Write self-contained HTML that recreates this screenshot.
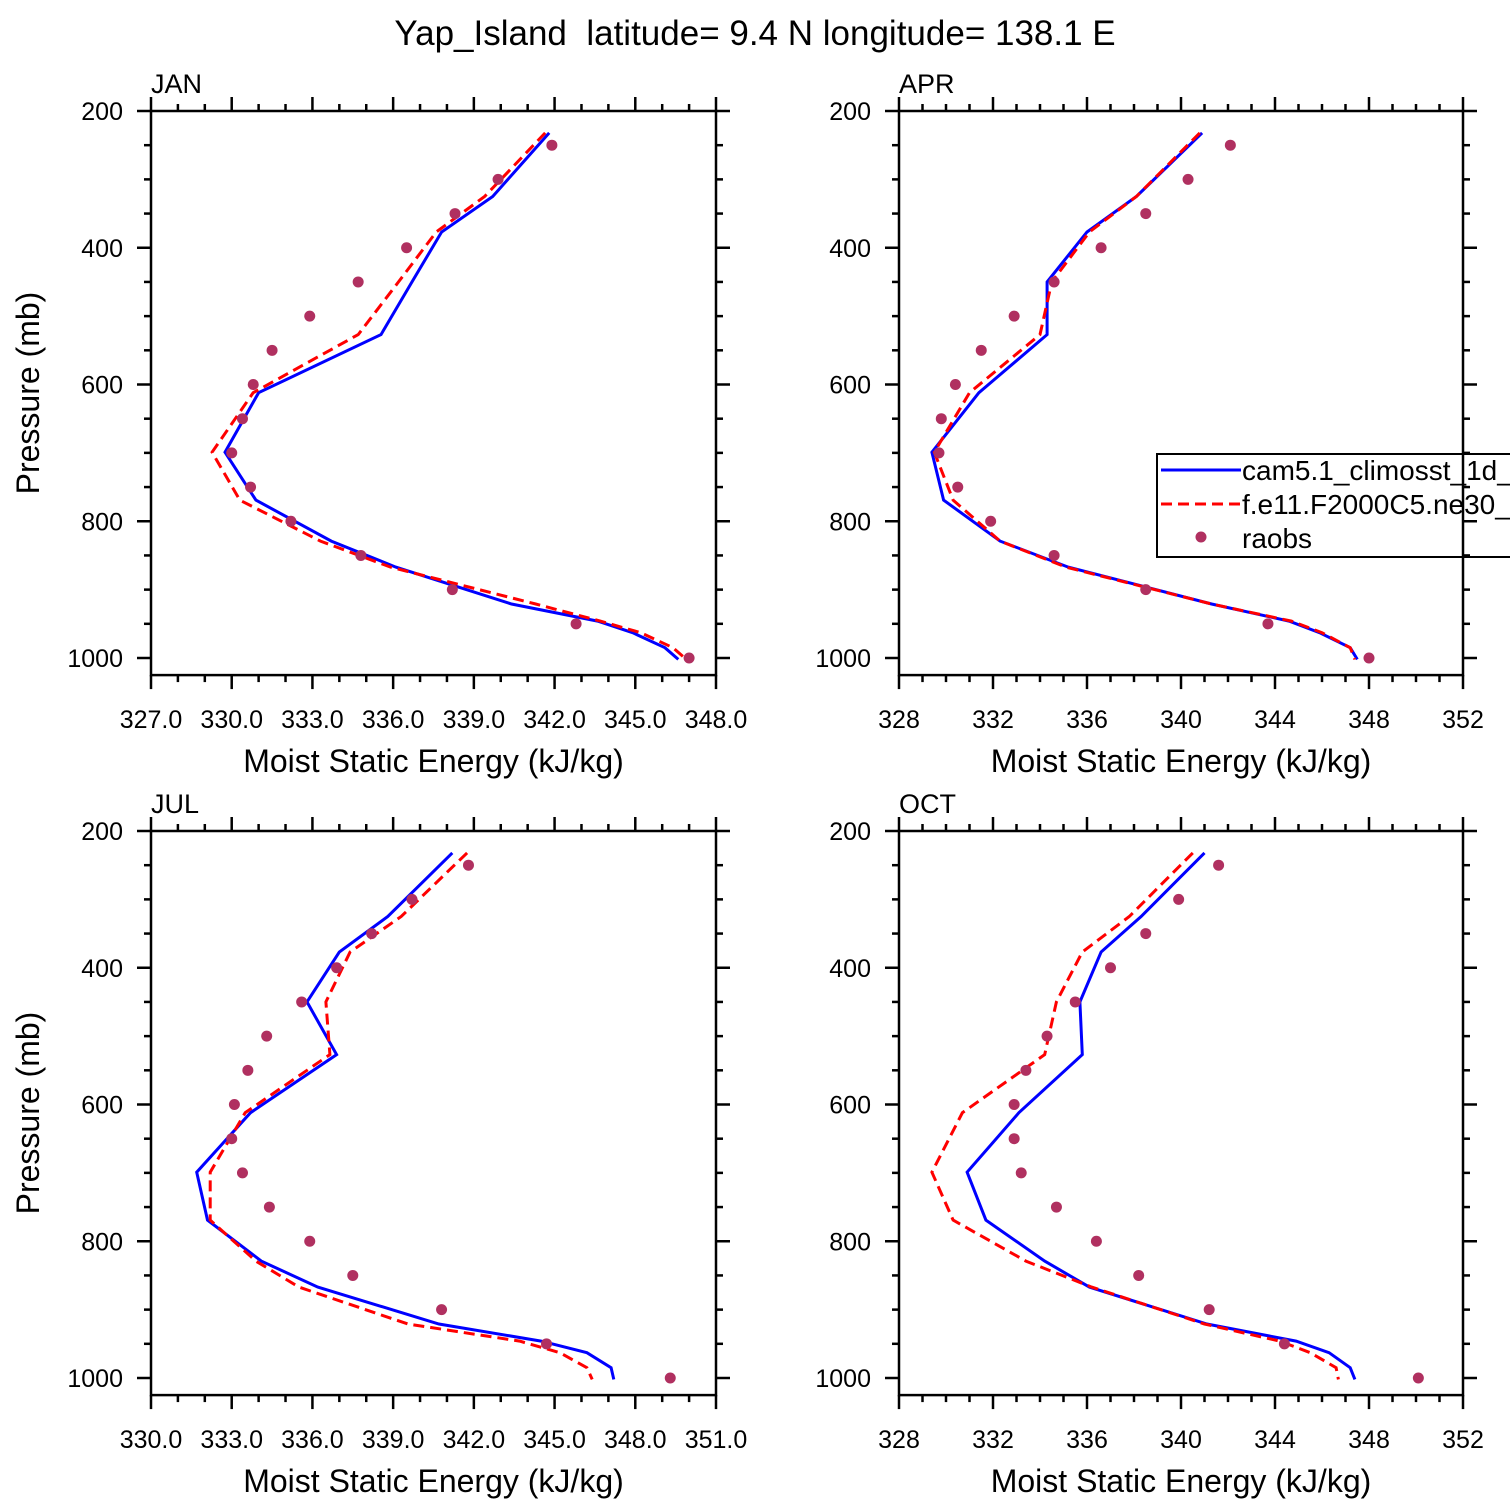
<!DOCTYPE html>
<html><head><meta charset="utf-8"><style>
html,body{margin:0;padding:0;background:#fff;}
svg{display:block;font-family:"Liberation Sans",sans-serif;}
</style></head><body>
<svg id="chart" width="1510" height="1510" viewBox="0 0 1510 1510" xmlns="http://www.w3.org/2000/svg">
<text x="755" y="45" font-size="35" text-anchor="middle" style="white-space:pre">Yap_Island  latitude= 9.4 N longitude= 138.1 E</text>
</svg>
<script>
const levels = [232, 325, 377, 450, 527, 612, 699, 769, 829, 867, 921, 946, 963, 985, 1002];
const obsLevels = [250, 300, 350, 400, 450, 500, 550, 600, 650, 700, 750, 800, 850, 900, 950, 1000];
const janCam = [341.8, 339.7, 337.8, 336.7, 335.55, 331.0, 329.75, 330.9, 333.7, 336.1, 340.4, 343.6, 344.9, 346.1, 346.6];
const janF = [341.65, 339.4, 337.6, 336.2, 334.7, 330.8, 329.27, 330.3, 333.3, 335.9, 341.3, 343.7, 345.2, 346.4, 346.9];
const janObs = [341.9, 339.9, 338.3, 336.5, 334.7, 332.9, 331.5, 330.8, 330.4, 330.0, 330.7, 332.2, 334.8, 338.2, 342.8, 347.0];
const aprCam = [340.9, 338.1, 336.0, 334.3, 334.3, 331.4, 329.4, 329.9, 332.3, 335.2, 341.3, 344.6, 345.9, 347.2, 347.5];
const aprF = [340.8, 338.1, 336.1, 334.5, 334.0, 331.0, 329.5, 330.3, 332.3, 335.1, 341.3, 344.7, 346.0, 347.2, 347.4];
const aprObs = [342.1, 340.3, 338.5, 336.6, 334.6, 332.9, 331.5, 330.4, 329.8, 329.7, 330.5, 331.9, 334.6, 338.5, 343.7, 348.0];
const julCam = [341.2, 338.8, 337.0, 335.8, 336.9, 333.7, 331.7, 332.1, 334.1, 336.2, 340.7, 344.5, 346.2, 347.1, 347.2];
const julF = [341.75, 339.3, 337.4, 336.5, 336.65, 333.5, 332.2, 332.2, 333.9, 335.5, 339.55, 343.7, 345.2, 346.2, 346.4];
const julObs = [341.8, 339.7, 338.2, 336.9, 335.6, 334.3, 333.6, 333.1, 333.0, 333.4, 334.4, 335.9, 337.5, 340.8, 344.7, 349.3];
const octCam = [341.0, 338.3, 336.6, 335.7, 335.8, 333.1, 330.9, 331.7, 334.2, 336.1, 341.1, 344.9, 346.3, 347.2, 347.4];
const octF = [340.5, 337.8, 335.8, 334.7, 334.2, 330.7, 329.4, 330.3, 333.4, 336.2, 341.0, 344.2, 345.5, 346.6, 346.7];
const octObs = [341.6, 339.9, 338.5, 337.0, 335.5, 334.3, 333.4, 332.9, 332.9, 333.2, 334.7, 336.4, 338.2, 341.2, 344.4, 350.1];
const yTicks = [200, 400, 600, 800, 1000];

const svg = document.getElementById('chart');
const NS = 'http://www.w3.org/2000/svg';
function mk(tag, attrs, parent){const e=document.createElementNS(NS,tag);for(const k in attrs)e.setAttribute(k,attrs[k]);(parent||svg).appendChild(e);return e;}

const panels = [
 {name:'jan',label:'JAN',x0:151,x1:716,yTop:111,xmin:327,xmax:348,step:3,dec:1,cam:janCam,f:janF,obs:janObs,ytitle:true},
 {name:'apr',label:'APR',x0:899,x1:1463,yTop:111,xmin:328,xmax:352,step:4,dec:0,cam:aprCam,f:aprF,obs:aprObs,ytitle:false},
 {name:'jul',label:'JUL',x0:151,x1:716,yTop:831,xmin:330,xmax:351,step:3,dec:1,cam:julCam,f:julF,obs:julObs,ytitle:true},
 {name:'oct',label:'OCT',x0:899,x1:1463,yTop:831,xmin:328,xmax:352,step:4,dec:0,cam:octCam,f:octF,obs:octObs,ytitle:false}
];
const pxPerMb = 547/800;
panels.forEach(P=>{
  const g = mk('g',{});
  
  
  const xs = v => P.x0 + (v-P.xmin)/(P.xmax-P.xmin)*(P.x1-P.x0);
  const ys = p => P.yTop + (p-200)*pxPerMb;
  const yBot = ys(1025);
  const clipId = 'clip-'+P.name;
  const cp = mk('clipPath',{id:clipId},g); mk('rect',{x:P.x0,y:P.yTop,width:P.x1-P.x0,height:yBot-P.yTop},cp);
  const plot = mk('g',{'clip-path':'url(#'+clipId+')'},g);
  const toPts = arr => arr.map((v,i)=>xs(v).toFixed(1)+','+ys(levels[i]).toFixed(1)).join(' ');
  const lc = mk('polyline',{points:toPts(P.cam),fill:'none',stroke:'#0000ff','stroke-width':3},plot);
  
  
  const lf = mk('polyline',{points:toPts(P.f),fill:'none',stroke:'#ff0000','stroke-width':3,'stroke-dasharray':'11 6'},plot);
  
  
  P.obs.forEach((v,i)=>{
    const c = mk('circle',{cx:xs(v),cy:ys(obsLevels[i]),r:5.5,fill:'#b03060'},plot);
    
    
  });
  const fr = mk('rect',{x:P.x0,y:P.yTop,width:P.x1-P.x0,height:yBot-P.yTop,fill:'none',stroke:'#000','stroke-width':2.5},g);
  
  
  for(let p=200;p<=1000;p+=50){
    const major = p%200===0, L = major?14:7, y=ys(p);
    mk('line',{x1:P.x0-L,y1:y,x2:P.x0,y2:y,stroke:'#000','stroke-width':2.5},g);
    mk('line',{x1:P.x1,y1:y,x2:P.x1+L,y2:y,stroke:'#000','stroke-width':2.5},g);
  }
  yTicks.forEach(p=>{
    const t = mk('text',{x:P.x0-28,y:ys(p)+9,'font-size':25,'text-anchor':'end'},g);
    t.textContent = p;
    
    
  });
  for(let v=P.xmin; v<=P.xmax+1e-6; v+=1){
    const major = (v-P.xmin)%P.step===0, L=major?14:7, x=xs(v);
    mk('line',{x1:x,y1:yBot,x2:x,y2:yBot+L,stroke:'#000','stroke-width':2.5},g);
    mk('line',{x1:x,y1:P.yTop-L,x2:x,y2:P.yTop,stroke:'#000','stroke-width':2.5},g);
    if(major){
      const t = mk('text',{x:x,y:yBot+53,'font-size':25,'text-anchor':'middle'},g);
      t.textContent = v.toFixed(P.dec);
      
      
    }
  }
  const xt = mk('text',{x:(P.x0+P.x1)/2,y:yBot+97,'font-size':32,'text-anchor':'middle'},g);
  xt.textContent = 'Moist Static Energy (kJ/kg)';
  
  
  if(P.ytitle){
    const yc=(P.yTop+yBot)/2;
    const yt = mk('text',{x:39,y:yc,'font-size':32,'text-anchor':'middle',transform:'rotate(-90 39 '+yc+')'},g);
    yt.textContent = 'Pressure (mb)';
    
    
  }
  const pl = mk('text',{x:P.x0,y:P.yTop-18,'font-size':27},g);
  pl.textContent = P.label;
  
  
});
const lg = mk('g',{});


mk('rect',{x:1157,y:454,width:400,height:103,fill:'none',stroke:'#000','stroke-width':2},lg);
const e1 = mk('line',{x1:1161,y1:470,x2:1241,y2:470,stroke:'#0000ff','stroke-width':3},lg);


const e2 = mk('line',{x1:1161,y1:504,x2:1241,y2:504,stroke:'#ff0000','stroke-width':3,'stroke-dasharray':'11 6'},lg);


const e3 = mk('circle',{cx:1201,cy:537,r:5.5,fill:'#b03060'},lg);


[['cam5.1_climosst_1d_',480],['f.e11.F2000C5.ne30_',514],['raobs',548]].forEach(([s,y])=>{
  const t = mk('text',{x:1242,y:y,'font-size':28},lg);
  t.textContent = s;
  
  
});
</script>
</body></html>
